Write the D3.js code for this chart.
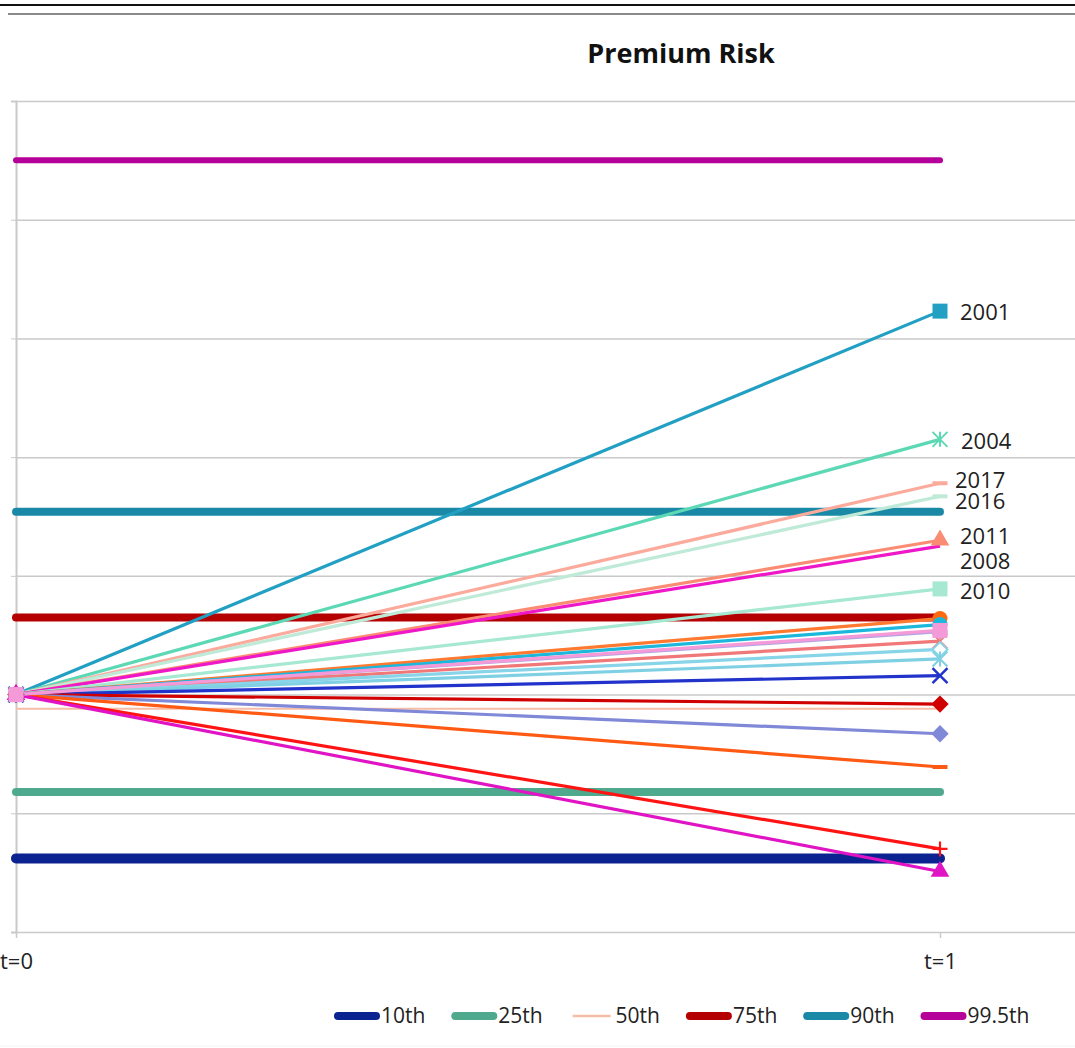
<!DOCTYPE html>
<html>
<head>
<meta charset="utf-8">
<script src="https://cdn.jsdelivr.net/npm/d3@7"></script>
<style>
  html, body { margin: 0; padding: 0; background: #fff; }
  svg { display: block; font-family: "Open Sans", "Liberation Sans", sans-serif; }
</style>
</head>
<body>
<svg id="chart" width="1075" height="1048"></svg>
<script>
// Time points on the category axis
const categories = ["t=0", "t=1"];

// Value gridlines
const gridValues = [0.8, 0.9, 1.0, 1.1, 1.2, 1.3, 1.4, 1.5];

// Simulated percentiles (flat across the horizon)
const pctNames  = ["10th", "25th", "50th", "75th", "90th", "99.5th"];
const pctValues = [0.862, 0.918, 0.988, 1.065, 1.154, 1.450];

// Historical year paths: value at t=0 and t=1
const yearNames = ["2001", "2004", "2017", "2016", "2011", "2008", "2010",
                   "1998", "1999", "2002", "2003", "2005", "2006", "2007",
                   "2009", "2012", "2013", "2014", "2015", "2000"];
const yearValues = [
  [1.00, 1.323], [1.00, 1.215], [1.00, 1.178], [1.00, 1.167], [1.00, 1.130],
  [1.00, 1.125], [1.00, 1.089], [1.00, 1.064], [1.00, 1.059], [1.00, 1.053],
  [1.00, 1.045], [1.00, 1.038], [1.00, 1.030], [1.00, 1.016], [1.00, 0.992],
  [1.00, 0.967], [1.00, 0.939], [1.00, 0.870], [1.00, 0.851], [1.00, 1.054]
];
// Years that carry a label at t=1
const labelledYears = ["2001", "2004", "2017", "2016", "2011", "2008", "2010"];

// ---- styling ----
const pctColors = ["#0b2390", "#4fa98c", "#f6bda6", "#b40000", "#1a89a6", "#b5009a"];
const pctWidths = [10, 8, 2, 8, 8, 6];

const yearColors = ["#22a0c4", "#5cd9b4", "#fbaa9c", "#c0ead8", "#fb8c74",
                    "#ee18c8", "#a6e8d2", "#ff7a30", "#1cb8dc", "#b0a4e2",
                    "#f07878", "#88d4e8", "#80d0e4", "#2233cc", "#d00000",
                    "#8088d8", "#ff5a14", "#ff1414", "#e014c4", "#f59ad8"];
const yearMarkers = ["square", "asterisk", "dash", "dash", "triangle",
                     "none", "square", "circle", "circle", "plus",
                     "xhollow", "diamondHollow", "asterisk", "x", "diamond",
                     "diamond", "dash", "plus", "triangle", "square"];
const markerFill = { "1998": "#ff6a10" };
// label nudges (x, y) relative to the t=1 point
const labelNudge = {
  "2001": [20, 1], "2004": [21, 2], "2017": [15, -3], "2016": [15, 5],
  "2011": [20, -4], "2008": [20, 15], "2010": [20, 2]
};

const svg = d3.select("#chart");
const W = 1075;

const x = d3.scalePoint().domain(categories).range([16, 940]);
const y = d3.scaleLinear().domain([0.8, 1.5]).range([932, 101]);

// frame lines along the top
svg.append("line").attr("x1", 0).attr("x2", W).attr("y1", 5).attr("y2", 5)
  .attr("stroke", "#111").attr("stroke-width", 2);
svg.append("line").attr("x1", 8).attr("x2", W).attr("y1", 14).attr("y2", 14)
  .attr("stroke", "#8a8a8a").attr("stroke-width", 2);
svg.append("line").attr("x1", 0).attr("x2", W).attr("y1", 1046).attr("y2", 1046)
  .attr("stroke", "#f2f2f2").attr("stroke-width", 1);

// title
svg.append("text").attr("x", 681).attr("y", 63).attr("text-anchor", "middle")
  .attr("font-size", 27).attr("font-weight", 700).attr("fill", "#111")
  .text("Premium Risk");

// horizontal gridlines
const grid = svg.append("g").attr("transform", "translate(16,0)")
  .call(d3.axisRight(y).tickValues(gridValues).tickSize(W - 16).tickFormat(""));
grid.select(".domain").remove();
grid.selectAll(".tick line").attr("stroke", "#c9c9c9").attr("stroke-width", 1.5);

// value axis line with short outer ticks
const yAx = svg.append("g").attr("transform", "translate(16,0)")
  .call(d3.axisLeft(y).tickValues(gridValues).tickSize(5).tickFormat(""));
yAx.select(".domain").attr("stroke", "#c9c9c9").attr("stroke-width", 2);
yAx.selectAll(".tick line").attr("stroke", "#c9c9c9");

// category axis
const xAx = svg.append("g").attr("transform", "translate(0,932)")
  .call(d3.axisBottom(x).tickSize(6).tickSizeOuter(0));
xAx.select(".domain").remove();
xAx.selectAll(".tick line").attr("stroke", "#c9c9c9").attr("stroke-width", 1.5);
xAx.selectAll(".tick text").attr("font-size", 22).attr("fill", "#222")
  .attr("font-family", "Open Sans, sans-serif").attr("dy", "1.25em");

const line = d3.line().x((d, i) => x(categories[i])).y(d => y(d));

// percentile bands
const pctG = svg.append("g");
pctValues.forEach((v, i) => {
  pctG.append("path").datum([v, v]).attr("d", line)
    .attr("fill", "none").attr("stroke", pctColors[i])
    .attr("stroke-width", pctWidths[i])
    .attr("stroke-linecap", i === 2 ? "butt" : "round");
});

// marker drawing
function drawMarker(g, type, cx, cy, color, fill) {
  const s = 15;
  const h = s / 2;
  switch (type) {
    case "square":
      g.append("path").attr("d", d3.symbol(d3.symbolSquare, s * s)())
        .attr("transform", `translate(${cx},${cy})`).attr("fill", color);
      break;
    case "triangle":
      g.append("path").attr("d", d3.symbol(d3.symbolTriangle, 150)())
        .attr("transform", `translate(${cx},${cy})`).attr("fill", color);
      break;
    case "circle":
      g.append("circle").attr("cx", cx).attr("cy", cy).attr("r", 7.5)
        .attr("fill", fill || color);
      break;
    case "diamond":
      g.append("path").attr("d", d3.symbol(d3.symbolSquare, 150)())
        .attr("transform", `translate(${cx},${cy}) rotate(45)`).attr("fill", color);
      break;
    case "diamondHollow":
      g.append("path").attr("d", d3.symbol(d3.symbolSquare, 110)())
        .attr("transform", `translate(${cx},${cy}) rotate(45)`)
        .attr("fill", "#fff").attr("stroke", color).attr("stroke-width", 2);
      break;
    case "dash":
      g.append("line").attr("x1", cx - h).attr("x2", cx + h).attr("y1", cy).attr("y2", cy)
        .attr("stroke", color).attr("stroke-width", 4);
      break;
    case "plus":
      g.append("path").attr("d", `M${cx - h},${cy}H${cx + h}M${cx},${cy - h}V${cy + h}`)
        .attr("stroke", color).attr("stroke-width", 2.2);
      break;
    case "x":
    case "xhollow":
      g.append("path").attr("d", `M${cx - h},${cy - h}L${cx + h},${cy + h}M${cx - h},${cy + h}L${cx + h},${cy - h}`)
        .attr("stroke", color).attr("stroke-width", type === "x" ? 2.5 : 1.8);
      break;
    case "asterisk":
      g.append("path").attr("d", `M${cx - h},${cy - h}L${cx + h},${cy + h}M${cx - h},${cy + h}L${cx + h},${cy - h}M${cx},${cy - h}V${cy + h}`)
        .attr("stroke", color).attr("stroke-width", 2);
      break;
    default:
      break;
  }
}

// year paths
const yrG = svg.append("g");
yearValues.forEach((vals, i) => {
  yrG.append("path").datum(vals).attr("d", line)
    .attr("fill", "none").attr("stroke", yearColors[i]).attr("stroke-width", 3.2)
    .attr("stroke-linejoin", "round");
});
const mkG = svg.append("g");
yearValues.forEach((vals, i) => {
  vals.forEach((v, j) => {
    drawMarker(mkG, yearMarkers[i], x(categories[j]), y(v), yearColors[i], markerFill[yearNames[i]]);
  });
});

// year labels
const lblG = svg.append("g");
labelledYears.forEach(name => {
  const i = yearNames.indexOf(name);
  const v = yearValues[i][1];
  const n = labelNudge[name];
  lblG.append("text").attr("x", x(categories[1]) + n[0]).attr("y", y(v) + n[1])
    .attr("dy", "0.35em").attr("font-size", 22).attr("fill", "#222").text(name);
});

// legend
const legG = svg.append("g");
const legStart = 334, legPitch = 117.3, legY = 1016;
pctNames.forEach((name, i) => {
  const lx = legStart + i * legPitch;
  legG.append("line").attr("x1", lx + 4).attr("x2", lx + 42).attr("y1", legY).attr("y2", legY)
    .attr("stroke", pctColors[i]).attr("stroke-width", i === 2 ? 2.5 : 8)
    .attr("stroke-linecap", i === 2 ? "butt" : "round");
  legG.append("text").attr("x", lx + 47).attr("y", legY).attr("dy", "0.35em")
    .attr("font-size", 21).attr("fill", "#222").text(name);
});
</script>
</body>
</html>
